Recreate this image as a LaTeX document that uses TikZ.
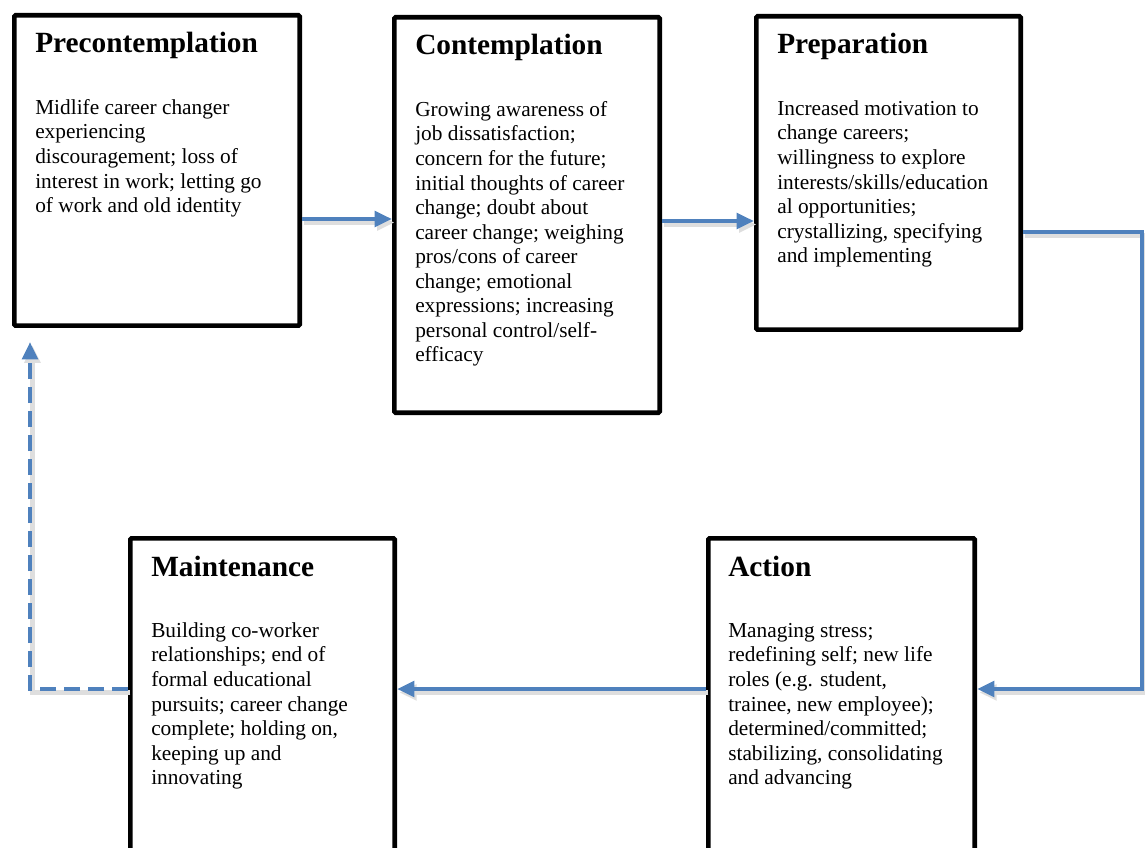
\documentclass[tikz,border=0pt]{standalone}
\usepackage{fontspec}
\setmainfont{Liberation Serif}
\usetikzlibrary{arrows.meta,calc}
\definecolor{arrowblue}{HTML}{4F81BD}

\begin{document}
\begin{tikzpicture}[
    x=0.75pt, y=-0.75pt,
    stage/.style={rectangle, draw=black, line width=3.4pt, rounded corners=1pt, anchor=north west},
    stagetitle/.style={anchor=base west, inner sep=0pt, font=\fontsize{22}{26}\selectfont\bfseries},
    stagetext/.style={anchor=north west, inner sep=0pt, align=left, font=\fontsize{16}{18.4}\selectfont},
    flow/.style={draw=arrowblue, line width=3.6pt, -{Triangle[length=13pt,width=11.5pt]},
        preaction={draw=black!13, line width=3.6pt, transform canvas={shift={(1.8pt,-2.6pt)}}}},
    returnflow/.style={flow, dash pattern=on 12pt off 6pt}
]
    \useasboundingbox (0,0) rectangle (1145,848);

    % Stages
    \node[stage, minimum width=214.1pt, minimum height=232.85pt] (pre) at (12,13) {};
    \node[stage, minimum width=199.1pt, minimum height=296.6pt] (con) at (392,15) {};
    \node[stage, minimum width=198.35pt, minimum height=235.1pt] (prep) at (754,14) {};
    \node[stage, minimum width=199.85pt, minimum height=258pt] (act) at (706,536) {};
    \node[stage, minimum width=198.35pt, minimum height=258pt] (maint) at (128,536) {};

    % Titles
    \node[stagetitle] (pretitle) at ($(pre.north west)+(23,40)$) {Precontemplation};
    \node[stagetitle] (contitle) at ($(con.north west)+(23,40)$) {Contemplation};
    \node[stagetitle] (preptitle) at ($(prep.north west)+(23,40)$) {Preparation};
    \node[stagetitle] (acttitle) at ($(act.north west)+(22,40)$) {Action};
    \node[stagetitle] (mainttitle) at ($(maint.north west)+(23,40)$) {Maintenance};

    % Descriptions
    \node[stagetext] (pretext) at ($(pre.north west)+(23,84)$) {\strut Midlife career changer\\
        experiencing\\ discouragement; loss of\\ interest in work; letting go\\
        of work and old identity};
    \node[stagetext] (context) at ($(con.north west)+(23,84)$) {\strut Growing awareness of\\
        job dissatisfaction;\\ concern for the future;\\ initial thoughts of career\\
        change; doubt about\\ career change; weighing\\ pros/cons of career\\
        change; emotional\\ expressions; increasing\\ personal control/self-\\ efficacy};
    \node[stagetext] (preptext) at ($(prep.north west)+(23,84)$) {\strut Increased motivation to\\
        change careers;\\ willingness to explore\\ interests/skills/education\\
        al opportunities;\\ crystallizing, specifying\\ and implementing};
    \node[stagetext] (acttext) at ($(act.north west)+(22,84)$) {\strut Managing stress;\\
        redefining self; new life\\ roles (e.g. student,\\ trainee, new employee);\\
        determined/committed;\\ stabilizing, consolidating\\ and advancing};
    \node[stagetext] (mainttext) at ($(maint.north west)+(23,84)$) {\strut Building co-worker\\
        relationships; end of\\ formal educational\\ pursuits; career change\\
        complete; holding on,\\ keeping up and\\ innovating};

    % Routing points
    \coordinate (rowA) at (0,219);
    \coordinate (rowB) at (0,221);
    \coordinate (rowC) at (0,232);
    \coordinate (rowD) at (0,689);
    \coordinate (edgeR) at (1142,0);
    \coordinate (loopend) at (30,342);

    % Connectors
    \draw[flow] (pre.east |- rowA) -- (con.west |- rowA);
    \draw[flow] (con.east |- rowB) -- (prep.west |- rowB);
    \draw[flow] (prep.east |- rowC) -- (edgeR |- rowC) -- (edgeR |- rowD) -- (act.east |- rowD);
    \draw[flow] (act.west |- rowD) -- (maint.east |- rowD);
    \draw[returnflow] (maint.west |- rowD) -| (loopend);
\end{tikzpicture}
\end{document}
